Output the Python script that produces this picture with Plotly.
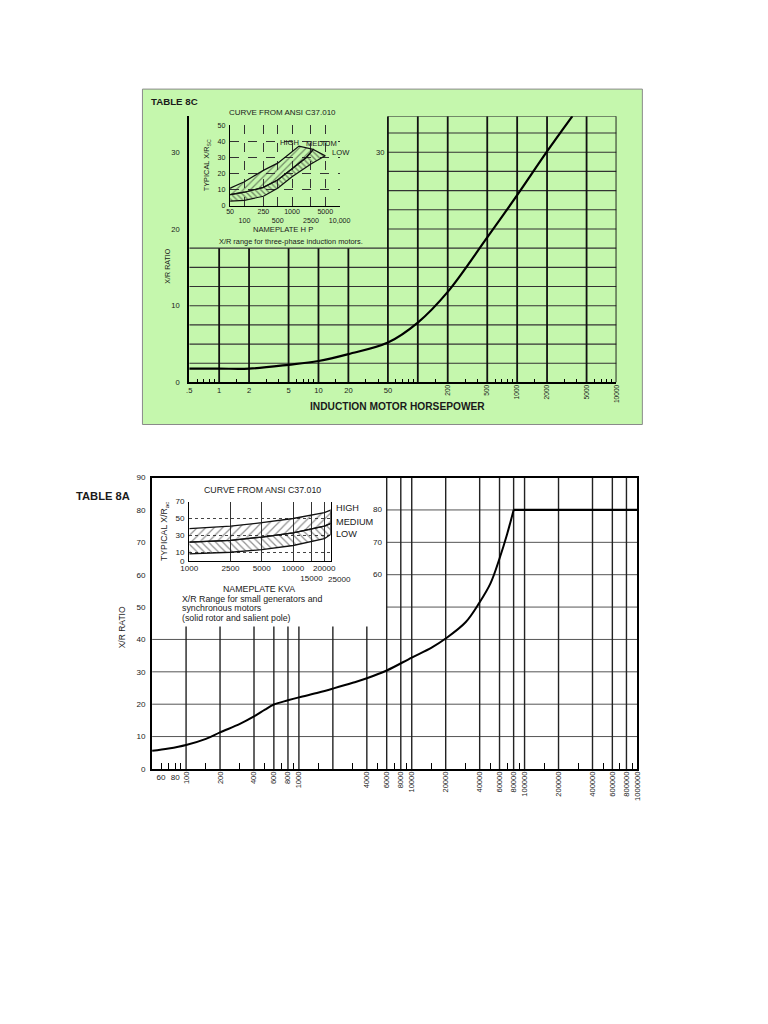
import math
import plotly.graph_objects as go

W, H = 768, 1024
FONT = "Liberation Sans"
INK = "#1a1a1a"
NB = "\u00a0"

# ---------------- Table 8C : induction motors ----------------
hp = [0.5, 1, 2, 5, 10, 20, 50, 100, 200, 500, 1000, 2000, 3600]
hp_xr = [1.8, 1.8, 1.8, 2.3, 2.8, 3.7, 5.2, 7.8, 11.8, 18.9, 24.4, 30.1, 34.7]

hp_ticks_flat = [0.5, 1, 2, 5, 10, 20, 50]
hp_ticks_flat_text = [".5", "1", "2", "5", "10", "20", "50"]
hp_ticks_rot = [200, 500, 1000, 2000, 5000, 10000]
hp_minor = [0.6, 0.7, 0.8, 0.9, 1.5, 3, 4, 6, 7, 8, 9, 15, 30, 40, 60, 70, 80, 90,
            150, 300, 400, 600, 700, 800, 900, 1500, 3000, 4000, 6000, 7000, 8000, 9000]
hp_xr_ticks = [0, 10, 20, 30]

hp_grid_lower_x = [1, 2, 5, 10, 20]
hp_grid_full_x = [50, 100, 200, 500, 1000, 2000, 5000, 10000]
hp_grid_lower_y = [2.5, 5, 7.5, 10, 12.5, 15, 17.5]
hp_grid_upper_y = [20, 22.5, 25, 27.5, 30, 32.5, 34.7]

# inset: typical X/R range (ANSI C37.010)
ins_hp_ticks = [50, 100, 250, 500, 1000, 2500, 5000, 10000]
ins_hp_text = ["50", NB + "<br>100", "250", NB + "<br>500", "1000", NB + "<br>2500",
               "5000", NB + "<br>10,000"]
ins_hp_high_x = [50, 100, 250, 500, 1000, 1400]
ins_hp_high_y = [11, 15, 22, 26.5, 33.5, 37]
ins_hp_med_x = [50, 100, 250, 500, 1000, 2000, 2800]
ins_hp_med_y = [7, 8.5, 11.5, 16, 23, 30, 35]
ins_hp_low_x = [50, 100, 250, 500, 1000, 2500, 5000]
ins_hp_low_y = [3, 3.5, 6, 11, 18, 26, 31]

# ---------------- Table 8A : generators / synchronous motors ----------------
kva = [50, 70, 100, 150, 200, 300, 400, 500, 600, 800, 1000, 1500, 2000, 3000, 4000,
       6000, 10000, 15000, 20000, 30000, 40000, 50000, 60000, 70000, 80000]
kva_xr = [5.6, 6.3, 7.4, 9.3, 11.3, 13.9, 16.2, 18.3, 19.9, 21.2, 22.1, 23.6, 24.8,
          26.6, 28.0, 30.4, 34.4, 37.5, 40.3, 45.3, 51.5, 57.4, 65.0, 72.5, 80]
kva_plateau_x = [80000, 1000000]
kva_plateau_y = [80, 80]

kva_ticks_flat = [60, 80]
kva_ticks_rot = [100, 200, 400, 600, 800, 1000, 4000, 6000, 8000, 10000, 20000, 40000,
                 60000, 80000, 100000, 200000, 400000, 600000, 800000, 1000000]
kva_minor = [60, 70, 80, 90, 150, 300, 500, 700, 900, 1500, 3000, 5000, 7000, 9000,
             15000, 30000, 50000, 70000, 90000, 150000, 300000, 500000, 700000, 900000]
kva_xr_ticks = [0, 10, 20, 30, 40, 50, 60, 70, 80, 90]
kva_inner_labels = [80, 70, 60]

kva_grid_lower_x = [100, 200, 400, 600, 800, 1000, 2000, 4000]
kva_grid_full_x = [6000, 8000, 10000, 20000, 40000, 60000, 80000, 100000, 200000,
                   400000, 600000, 800000]
kva_grid_lower_y = [10, 20, 30, 40]
kva_grid_upper_y = [50, 60, 70, 80]

ins_kva_ticks = [1000, 2500, 5000, 10000, 15000, 20000]
ins_kva_text = ["1000", "2500", "5000", "10000", NB + "<br>15000", "20000"]
ins_kva_extra_label = "25000"
ins_kva_xr_ticks = [0, 10, 30, 50, 70]
ins_kva_x = [1000, 2500, 5000, 10000, 20000, 23000]
ins_kva_high = [38, 41, 45, 50, 57, 60]
ins_kva_med = [22, 24, 28, 33, 41, 44]
ins_kva_low = [8, 10, 13, 18, 26, 31]

# page-pixel -> paper helpers (small correction for the capture's scaling)
AX, BX = 0.978, 7.0
AY, BY = 0.99, 4.0


def px(v):
    return ((v - BX) / AX) / W


def py(v):
    return 1 - ((v - BY) / AY) / H


def vsegs(xs, y0, y1):
    X, Y = [], []
    for x in xs:
        X += [x, x, None]
        Y += [y0, y1, None]
    return X, Y


def hsegs(ys, x0, x1):
    X, Y = [], []
    for y in ys:
        X += [x0, x1, None]
        Y += [y, y, None]
    return X, Y


fig = go.Figure()


def line_trace(X, Y, xa, ya, color, width, dash="solid"):
    fig.add_trace(go.Scatter(x=X, y=Y, xaxis=xa, yaxis=ya, mode="lines",
                             line=dict(color=color, width=width, dash=dash),
                             hoverinfo="skip", showlegend=False))


# ---- Table 8C grid ----
x_lo, x_hi = hp_ticks_flat[0], hp_grid_full_x[-1]
top_lower = hp_grid_lower_y[-1]
top_upper = hp_grid_upper_y[-1]
X, Y = hsegs(hp_grid_lower_y, x_lo, x_hi)
line_trace(X, Y, "x", "y", "#333", 1.1)
X, Y = hsegs(hp_grid_upper_y, hp_grid_full_x[0], x_hi)
line_trace(X, Y, "x", "y", "#333", 1.1)
X, Y = vsegs(hp_grid_lower_x, 0, top_lower)
line_trace(X, Y, "x", "y", "#111", 1.8)
X, Y = vsegs(hp_grid_full_x, 0, top_upper)
line_trace(X, Y, "x", "y", "#111", 1.8)

fig.add_trace(go.Scatter(x=hp, y=hp_xr, xaxis="x", yaxis="y", mode="lines",
                         line=dict(color="black", width=2.2, shape="spline", smoothing=1.0),
                         hoverinfo="skip", showlegend=False))
fig.add_trace(go.Scatter(x=hp_ticks_rot, y=[0] * len(hp_ticks_rot), xaxis="x2", yaxis="y",
                         mode="markers", marker=dict(opacity=0), hoverinfo="skip",
                         showlegend=False))

# ---- Table 8C inset bands ----
band_up_x = ins_hp_high_x + ins_hp_med_x[::-1]
band_up_y = ins_hp_high_y + ins_hp_med_y[::-1]
band_lo_x = ins_hp_med_x + ins_hp_low_x[::-1]
band_lo_y = ins_hp_med_y + ins_hp_low_y[::-1]
fig.add_trace(go.Scatter(x=band_up_x, y=band_up_y, xaxis="x3", yaxis="y3", mode="lines",
                         fill="toself", fillcolor="rgba(0,0,0,0)",
                         fillpattern=dict(shape="/", fgcolor="#222", bgcolor="rgba(0,0,0,0)",
                                          size=5, solidity=0.25),
                         line=dict(color="#111", width=1.2), hoverinfo="skip",
                         showlegend=False))
fig.add_trace(go.Scatter(x=band_lo_x, y=band_lo_y, xaxis="x3", yaxis="y3", mode="lines",
                         fill="toself", fillcolor="rgba(0,0,0,0)",
                         fillpattern=dict(shape="\\", fgcolor="#222", bgcolor="rgba(0,0,0,0)",
                                          size=4, solidity=0.35),
                         line=dict(color="#111", width=1.2), hoverinfo="skip",
                         showlegend=False))

# ---- Table 8A grid ----
k_lo, k_hi = kva[0], kva_plateau_x[-1]
k_split = 44
X, Y = hsegs(kva_grid_lower_y, k_lo, k_hi)
line_trace(X, Y, "x4", "y4", "#555", 1.0)
X, Y = hsegs(kva_grid_upper_y, kva_grid_full_x[0], k_hi)
line_trace(X, Y, "x4", "y4", "#555", 1.0)
X, Y = vsegs(kva_grid_lower_x, 0, k_split)
line_trace(X, Y, "x4", "y4", "#222", 1.4)
X, Y = vsegs(kva_grid_full_x, 0, kva_xr_ticks[-1])
line_trace(X, Y, "x4", "y4", "#222", 1.4)

fig.add_trace(go.Scatter(x=kva, y=kva_xr, xaxis="x4", yaxis="y4", mode="lines",
                         line=dict(color="black", width=2, shape="spline", smoothing=1.0),
                         hoverinfo="skip", showlegend=False))
fig.add_trace(go.Scatter(x=kva_plateau_x, y=kva_plateau_y, xaxis="x4", yaxis="y4",
                         mode="lines", line=dict(color="black", width=2.2),
                         hoverinfo="skip", showlegend=False))
fig.add_trace(go.Scatter(x=kva_ticks_rot, y=[0] * len(kva_ticks_rot), xaxis="x5", yaxis="y4",
                         mode="markers", marker=dict(opacity=0), hoverinfo="skip",
                         showlegend=False))

# ---- Table 8A inset bands ----
fig.add_trace(go.Scatter(x=ins_kva_x + ins_kva_x[::-1], y=ins_kva_high + ins_kva_med[::-1],
                         xaxis="x6", yaxis="y6", mode="lines", fill="toself",
                         fillcolor="rgba(0,0,0,0)",
                         fillpattern=dict(shape="/", fgcolor="#222", bgcolor="rgba(0,0,0,0)",
                                          size=6, solidity=0.2),
                         line=dict(color="#111", width=1.3), hoverinfo="skip",
                         showlegend=False))
fig.add_trace(go.Scatter(x=ins_kva_x + ins_kva_x[::-1], y=ins_kva_med + ins_kva_low[::-1],
                         xaxis="x6", yaxis="y6", mode="lines", fill="toself",
                         fillcolor="rgba(0,0,0,0)",
                         fillpattern=dict(shape="\\", fgcolor="#222", bgcolor="rgba(0,0,0,0)",
                                          size=5, solidity=0.25),
                         line=dict(color="#111", width=1.3), hoverinfo="skip",
                         showlegend=False))

tf = lambda s: dict(family=FONT, size=s, color=INK)

fig.update_layout(
    width=W, height=H, margin=dict(l=0, r=0, t=0, b=0), autosize=False,
    paper_bgcolor="white", plot_bgcolor="rgba(0,0,0,0)", showlegend=False,
    xaxis=dict(type="log", domain=[px(188), px(617)], anchor="y",
               range=[math.log10(0.5), math.log10(10000)],
               tickmode="array", tickvals=hp_ticks_flat, ticktext=hp_ticks_flat_text,
               ticks="", tickangle=0, showgrid=False, zeroline=False, showline=True,
               linecolor="black", linewidth=1.6, tickfont=tf(7.6),
               minor=dict(tickmode="array", tickvals=hp_minor, ticks="inside",
                          ticklen=4, tickwidth=1, tickcolor="black", showgrid=False)),
    xaxis2=dict(type="log", overlaying="x", anchor="y", side="bottom",
                range=[math.log10(0.5), math.log10(10000)],
                tickmode="array", tickvals=hp_ticks_rot,
                ticktext=[str(v) for v in hp_ticks_rot], tickangle=-90,
                ticks="", showgrid=False, zeroline=False, showline=False,
                tickfont=tf(6.6)),
    yaxis=dict(domain=[py(382), py(116)], anchor="x", range=[0, 34.7],
               tickmode="array", tickvals=hp_xr_ticks, ticks="", showgrid=False,
               zeroline=False, showline=True, linecolor="black", linewidth=2,
               tickfont=tf(7.6), ticklabelstandoff=6),
    xaxis3=dict(type="log", domain=[px(229), px(339)], anchor="y3",
                range=[math.log10(50), math.log10(10000)],
                tickmode="array", tickvals=ins_hp_ticks, ticktext=ins_hp_text,
                ticks="", tickangle=0, showgrid=True, gridcolor="#333", griddash="dash",
                gridwidth=0.8, zeroline=False, showline=True, linecolor="black",
                linewidth=1.3, tickfont=tf(7.1), ticklabelstandoff=-2),
    yaxis3=dict(domain=[py(205.7), py(125)], anchor="x3", range=[0, 50],
                tickmode="array", tickvals=[0, 10, 20, 30, 40, 50], ticks="",
                showgrid=True, gridcolor="#333", griddash="dash", gridwidth=0.8,
                zeroline=False, showline=True, linecolor="black", linewidth=1.3,
                tickfont=tf(7.1), ticklabelstandoff=2),
    xaxis4=dict(type="log", domain=[px(150.7), px(638)], anchor="y4",
                range=[math.log10(50), math.log10(1000000)],
                tickmode="array", tickvals=kva_ticks_flat,
                ticktext=[str(v) for v in kva_ticks_flat], tickangle=0,
                ticks="", showgrid=False, zeroline=False, showline=True, mirror=True,
                linecolor="black", linewidth=1.6, tickfont=tf(8.1),
                minor=dict(tickmode="array", tickvals=kva_minor, ticks="inside",
                           ticklen=6, tickwidth=1.2, tickcolor="black", showgrid=False)),
    xaxis5=dict(type="log", overlaying="x4", anchor="y4", side="bottom",
                range=[math.log10(50), math.log10(1000000)],
                tickmode="array", tickvals=kva_ticks_rot,
                ticktext=[str(v) for v in kva_ticks_rot], tickangle=-90,
                ticks="", showgrid=False, zeroline=False, showline=False,
                tickfont=tf(7.6)),
    yaxis4=dict(domain=[py(768), py(477)], anchor="x4", range=[0, 90],
                tickmode="array", tickvals=kva_xr_ticks, ticks="", showgrid=False,
                zeroline=False, showline=True, mirror=True, linecolor="black",
                linewidth=2, tickfont=tf(8.1), ticklabelstandoff=3),
    xaxis6=dict(type="log", domain=[px(188), px(330)], anchor="y6",
                range=[math.log10(1000), math.log10(23000)],
                tickmode="array", tickvals=ins_kva_ticks, ticktext=ins_kva_text,
                ticks="", tickangle=0, showgrid=True, gridcolor="#333", gridwidth=0.9,
                zeroline=False, showline=True, linecolor="black", linewidth=1.4,
                tickfont=tf(8.1), ticklabelstandoff=-1),
    yaxis6=dict(domain=[py(560), py(501)], anchor="x6", range=[0, 70],
                tickmode="array", tickvals=ins_kva_xr_ticks, ticks="",
                showgrid=True, gridcolor="#444", griddash="dot", gridwidth=0.9,
                zeroline=False, showline=True, mirror=True, linecolor="black",
                linewidth=1.3, tickfont=tf(8.1), ticklabelstandoff=2),
)

fig.add_shape(type="rect", xref="paper", yref="paper", x0=px(141), x1=px(643),
              y0=py(424), y1=py(89), fillcolor="#c5f7ad",
              line=dict(color="#8a8a8a", width=1), layer="below")


def note(text, x, y, size, xanchor="center", angle=0, yref="paper", bold=False):
    fig.add_annotation(text=f"<b>{text}</b>" if bold else text, x=x, y=y, xref="paper",
                       yref=yref, xanchor=xanchor, yanchor="middle", showarrow=False,
                       textangle=angle, font=tf(size))


# Table 8C texts
note("TABLE 8C", px(148), py(101), 9.7, xanchor="left", bold=True)
note("CURVE FROM ANSI C37.010", px(282), py(112), 8)
note("HIGH", px(289), py(142), 7.6)
note("MEDIUM", px(321), py(143), 7.6)
note("LOW", px(340), py(152), 7.6)
note("NAMEPLATE H P", px(282), py(229), 7.6)
note("X/R range for three-phase induction motors.", px(290), py(241), 7.4)
note("TYPICAL X/R<sub>SC</sub>", px(206), py(165), 7.4, angle=-90)
note("X/R RATIO", px(167), py(266), 7.1, angle=-90)
note(str(hp_xr_ticks[-1]), px(380), hp_xr_ticks[-1], 7.6, yref="y")
note("INDUCTION MOTOR HORSEPOWER", px(397), py(406), 10.2, bold=True)

# Table 8A texts
note("TABLE 8A", px(72), py(495), 11.2, xanchor="left", bold=True)
note("CURVE FROM ANSI C37.010", px(262), py(489), 8.8)
note("HIGH", px(333), py(507), 9.2, xanchor="left")
note("MEDIUM", px(333), py(521), 9.2, xanchor="left")
note("LOW", px(333), py(533), 9.2, xanchor="left")
note(ins_kva_extra_label, px(339), py(579), 8.1)
note("TYPICAL X/R<sub>ac</sub>", px(163), py(531), 8.7, angle=-90)
note("NAMEPLATE KVA", px(258), py(588), 8.8)
note("X/R Range for small generators and", px(179), py(598), 8.8, xanchor="left")
note("synchronous motors", px(179), py(607.5), 8.8, xanchor="left")
note("(solid rotor and salient pole)", px(179), py(617), 8.8, xanchor="left")
note("X/R RATIO", px(120), py(627), 8.5, angle=-90)
for v in kva_inner_labels:
    note(str(v), px(378), v, 8.1, yref="y4")

fig.write_html(
    "out.html",
    config={"displayModeBar": False, "responsive": False},
    post_script=("document.documentElement.style.overflow='hidden';"
                 "document.body.style.margin='0';document.body.style.overflow='hidden';"),
)
